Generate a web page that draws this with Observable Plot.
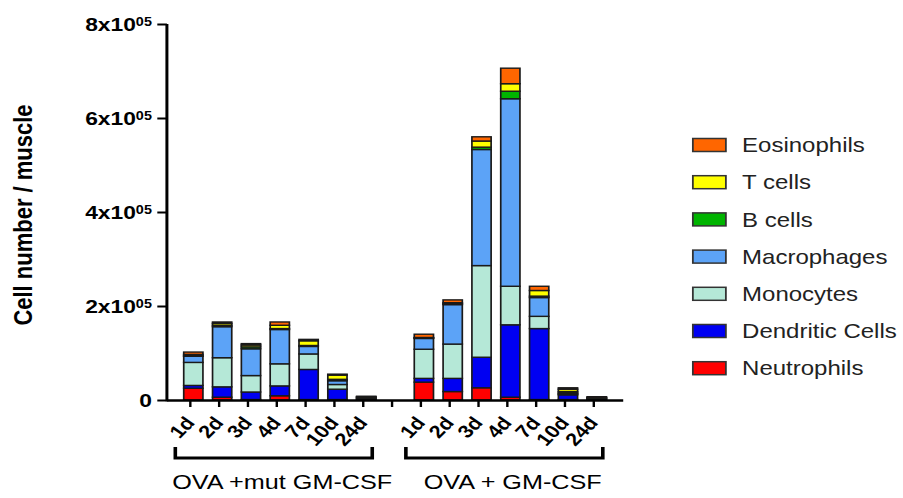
<!DOCTYPE html>
<html><head><meta charset="utf-8">
<script src="https://cdn.jsdelivr.net/npm/d3@7"></script>
<script src="https://cdn.jsdelivr.net/npm/@observablehq/plot@0.6"></script>
<style>
body{margin:0;background:#fff;}
#chart{width:903px;height:498px;overflow:hidden;background:#fff;}
#chart svg{transform:scaleX(1.2008);transform-origin:0 0;display:block;}
</style></head><body><div id="chart"></div>
<script>
// ---- data (cell counts per muscle) ----
const days = ["1d","2d","3d","4d","7d","10d","24d"];
const groups = ["OVA +mut GM-CSF","OVA + GM-CSF"];
const cellTypes = ["Neutrophils","Dendritic Cells","Monocytes","Macrophages","B cells","T cells","Eosinophils"];
const cellColors = ["#FF0000","#0000F2","#B5E8D7","#5CA3F7","#00B400","#FFFF00","#FF6600"];
// values: first 7 = OVA +mut GM-CSF (1d..24d), last 7 = OVA + GM-CSF (1d..24d)
const neutrophils    = [25000, 6000, 1000, 9000, 1000, 1000, 1000,   38000, 18000, 26000, 6000, 1000, 1000, 1000];
const dendriticCells = [6000, 22000, 16000, 21000, 64000, 22000, 1000,   8000, 28000, 65000, 154000, 151000, 10000, 1000];
const monocytes      = [49000, 62000, 35000, 47000, 33000, 10000, 1000,  62000, 73000, 195000, 82000, 26000, 2000, 1000];
const macrophages    = [13000, 66000, 57000, 73000, 16000, 8000, 2000,   23000, 84000, 247000, 399000, 40000, 2000, 1000];
const bCells         = [1000, 3000, 4000, 2000, 2000, 3000, 1000,        1000, 2000, 5000, 16000, 3000, 3000, 1000];
const tCells         = [3000, 4000, 4000, 7000, 10000, 9000, 1000,       1000, 2000, 13000, 16000, 12000, 5000, 1000];
const eosinophils    = [5000, 3000, 3000, 7000, 3000, 2000, 1000,        7000, 6000, 9000, 33000, 9000, 3000, 1000];
const seriesValues = [neutrophils, dendriticCells, monocytes, macrophages, bCells, tCells, eosinophils];
const yTicks = [0, 200000, 400000, 600000, 800000];
const yTickLabels = ["0", "2x10", "4x10", "6x10", "8x10"];
const yTickSup = ["", "05", "05", "05", "05"];
const gapKey = "gap";

// ---- table ----
const rows = [];
const keyLabel = new Map();
const groupKeys = groups.map(() => []);
groups.forEach((g, gi) => {
  days.forEach((d, di) => {
    const key = g + "|" + d;
    keyLabel.set(key, d);
    groupKeys[gi].push(key);
    cellTypes.forEach((t, ti) => {
      rows.push({key, group: g, day: d, type: t, value: seriesValues[ti][gi * days.length + di]});
    });
  });
});
const xDomain = [...groupKeys[0], gapKey, ...groupKeys[1]];

const W = 752, H = 498;
const FONT = "'Liberation Sans', Arial, Helvetica, sans-serif";
const plot = Plot.plot({
  width: W, height: H,
  marginLeft: 139, marginRight: 233, marginTop: 24, marginBottom: 98,
  style: {fontFamily: FONT, background: "#fff", color: "#000", overflow: "visible"},
  x: {domain: xDomain, paddingInner: 0.325, paddingOuter: 0.355, label: null},
  y: {domain: [0, 800000], label: null},
  color: {domain: cellTypes, range: cellColors},
  marks: [
    Plot.barY(rows, {x: "key", y: "value", fill: "type", z: "type", order: cellTypes, stroke: "#1a1a1a", strokeWidth: 1.4}),
    Plot.ruleY([0], {stroke: "#000", strokeWidth: 2.5}),
    Plot.axisX({tickSize: 7, tickPadding: 12, tickRotate: -50, tickFormat: k => keyLabel.get(k) ?? "", fontSize: 18, fontWeight: "bold", strokeWidth: 2, label: null, dx: -3}),
    Plot.axisY({ticks: yTicks, tickSize: 8, tickPadding: 5, tickFormat: v => yTickLabels[yTicks.indexOf(v)], fontSize: 19, fontWeight: "bold", strokeWidth: 2, label: null})
  ]
});
document.getElementById("chart").appendChild(plot);

// ---- decorations ----
const svg = d3.select(plot);
const xs = plot.scale("x"), ys = plot.scale("y");
const center = k => xs.apply(k) + xs.bandwidth / 2;
const y0 = ys.apply(0);

// y axis line
svg.append("line")
  .attr("x1", xs.range[0]).attr("x2", xs.range[0])
  .attr("y1", ys.apply(0) + 1.2).attr("y2", ys.apply(800000))
  .attr("stroke", "#000").attr("stroke-width", 2.5);

// superscripts on y tick labels
svg.selectAll('g[aria-label="y-axis tick label"] text').each(function() {
  const el = d3.select(this);
  const i = yTickLabels.indexOf(el.text());
  if (i >= 0 && yTickSup[i]) {
    el.append("tspan").attr("dy", "-0.42em").attr("font-size", 12).text(yTickSup[i]);
  }
});

// y axis title
svg.append("text")
  .attr("transform", `translate(26.5,${(ys.apply(0) + ys.apply(800000)) / 2 + 3}) rotate(-90)`)
  .attr("text-anchor", "middle").attr("font-family", FONT)
  .attr("font-size", 22).attr("font-weight", "bold").attr("fill", "#000")
  .text("Cell number / muscle");

// group brackets + labels
groups.forEach((g, gi) => {
  const ks = groupKeys[gi];
  const a = center(ks[0]) - 15, b = center(ks[ks.length - 1]) + 5;
  svg.append("path")
    .attr("d", `M${a},${y0 + 47}V${y0 + 58}H${b}V${y0 + 47}`)
    .attr("fill", "none").attr("stroke", "#000").attr("stroke-width", 3);
  svg.append("text")
    .attr("x", (center(ks[0]) + center(ks[ks.length - 1])) / 2 + 2)
    .attr("y", y0 + 89)
    .attr("text-anchor", "middle").attr("font-family", FONT)
    .attr("font-size", 21).attr("fill", "#000")
    .text(g);
});

// legend (top = last stacked series)
const legendOrder = cellTypes.slice().reverse();
const legendColors = cellColors.slice().reverse();
legendOrder.forEach((t, i) => {
  const cy = 145 + 37.2 * i;
  svg.append("rect")
    .attr("x", 577).attr("y", cy - 6.5).attr("width", 27.5).attr("height", 13)
    .attr("fill", legendColors[i]).attr("stroke", "#333").attr("stroke-width", 1.5);
  svg.append("text")
    .attr("x", 618).attr("y", cy).attr("dy", "0.36em")
    .attr("text-anchor", "start")
    .attr("font-family", FONT).attr("font-size", 20).attr("fill", "#222")
    .text(t);
});
</script></body></html>
